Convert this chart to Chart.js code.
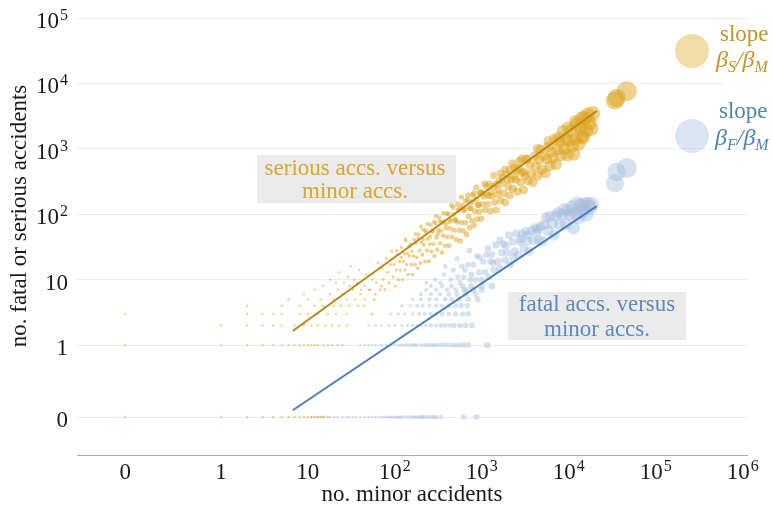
<!DOCTYPE html>
<html><head><meta charset="utf-8">
<script src="https://cdn.jsdelivr.net/npm/chart.js@4/dist/chart.umd.min.js"></script>
<style>html,body{margin:0;padding:0;background:#fff;}#c{display:block;}</style>
</head><body>
<canvas id="c" width="773" height="512" style="width:773px;height:512px"></canvas>
<script>
// ---------- DATA ----------
// [no. minor accidents, no. serious accidents]
const seriousLow = [
 [0,0],[1,0],[2,0],[3,0],[4,0],[5,0],[6,0],[7,0],[8,0],[9,0],[10,0],[11,0],[12,0],[13,0],[14,0],[15,0],[17,0],
 [0,1],[1,1],[2,1],[3,1],[4,1],[5,1],[6,1],[7,1],[8,1],[9,1],[10,1],[11,1],[12,1],[13,1],[15,1],[17,1],[19,1],[22,1],[25,1],
 [1,2],[2,2],[3,2],[4,2],[5,2],[7,2],[9,2],[11,2],[13,2],[16,2],[19,2],[23,2],[28,2],
 [0,3],[2,3],[3,3],[4,3],[5,3],[8,3],[10,3],[13,3],[17,3],[21,3],[28,3],[55,3],
 [2,4],[5,4],[8,4],[12,4],[15,4],[20,4],[24,4],[30,4],[38,4],
 [6,5],[10,5],[14,5],[20,5],[28,5],[35,5],[45,5],
 [9,6],[18,6],[25,6],[40,6],[60,6],
 [12,7],[22,7],[33,7],[50,7],
 [15,8],[30,8],[45,8],[70,8],
 [18,10],[21,9],[23,13],[26,9],[29,11],[31,16],[34,10],[37,9],[39,14]
];
const seriousCloud = [
 [41,7],[44,4],[47,12],[52,7],[55,10],[58,5],[61,9],[64,18],[68,7],[71,15],[74,10],[77,7],[80,21],[83,13],[86,9],[89,17],[92,27],[95,11],[98,17],
 [101,8],[104,14],[107,24],[110,10],[113,19],[116,14],[119,31],[122,10],[125,19],[128,25],[131,14],[134,39],[137,17],[140,25],[143,12],[147,23],[151,35],[155,17],[159,12],[163,23],
 [167,41],[171,17],[175,36],[179,22],[183,15],[187,49],[192,28],[197,18],[202,37],[207,24],[212,58],
 [217,34],[222,19],[228,53],[234,28],[240,42],[246,19],[252,35],[258,69],[265,27],[272,54],[279,35],[286,23],[293,72],[300,44],[308,29],[316,57],[324,89],[332,36],[341,56],[350,26],
 [359,47],[368,78],[378,33],[388,61],[398,45],[409,101],[420,33],[431,61],[443,82],[455,45],[467,127],[480,57],[493,81],[507,41],[521,76],[536,115],[551,57],[566,39],[582,75],[598,136],
 [615,56],[632,119],[650,74],[668,49],[687,166],[706,93],[726,62],[746,124],[767,80],[789,197],
 [811,68],[834,111],[858,169],[882,84],[907,138],[933,110],[960,210],[987,86],[1015,143],[1050,186],[1090,116],[1130,268],[1170,142],[1210,193],[1260,112],[1310,190],[1360,265],
 [1410,153],[1470,116],[1530,199],[1590,327],[1650,162],[1720,299],[1790,210],[1860,151],[1940,412],[2020,264],[2100,194],[2190,341],[2280,245],[2370,517],
 [2470,339],[2570,222],[2680,505],[2790,308],[2900,431],[3020,235],[3150,387],[3280,682],[3420,324],[3560,570],[3710,418],[3870,307],[4030,767],[4200,538],[4380,387],[4560,681],
 [4750,976],[4950,484],[5160,780],[5380,425],[5610,700],[5850,1075],[6100,550],[6360,900],[6630,727],[6910,1400],[7200,580],[7510,980],[7830,1280],[8160,800],[8510,1870],
 [8870,1000],[9250,1365],[9640,800],[10050,1350],[10480,1890],[10930,1100],[11400,830],[11880,1430],[12390,2360],[12920,1175],[13470,2170],[14040,1525],[14640,1510],
 [15260,3000],[15900,1920],[16580,3300],[17280,2500],[18010,2060],[18770,3450]
];
const seriousUpper = [
 [105,28],[118,22],[133,42],[146,32],[158,27],[173,50],[186,43],[199,65],[213,41],[226,57],[238,71],[256,46],[269,56],[283,77],[297,94],[313,50],[329,78],[345,75],[362,103],[382,70],
 [402,102],[425,76],[448,136],[472,99],[498,83],[525,144],[555,123],[585,183],[620,113],[655,159],[692,197],[730,124],[772,154],[815,210],[862,259],[910,139],[965,218],[1020,210],
 [1080,292],[1145,198],[1215,291],[1290,217],[1370,390],[1455,287],[1545,240],[1640,422],[1745,364],[1850,480],[1970,339],[2090,474],[2230,595],[2370,378],[2530,471],[2700,650],
 [2880,700],[3080,441],[3300,697],[4400,1000],[5900,1300],[7700,1500],[9800,2100],[12000,2600],[14000,2900]
];
// [no. minor accidents, no. fatal accidents]
const fatalLow = [
 [11,0],[12,0],[13,0],[14,0],[15,0],[16,0],[18,0],[20,0],[22,0],[25,0],[28,0],[30,0],[33,0],[36,0],[40,0],[45,0],[50,0],[55,0],[60,0],[65,0],[70,0],[75,0],[80,0],[85,0],
 [90,0],[95,0],[100,0],[105,0],[110,0],[115,0],[120,0],[130,0],[140,0],[150,0],[160,0],[170,0],[180,0],[190,0],[200,0],[210,0],[220,0],[240,0],[260,0],[280,0],[300,0],[340,0],[620,0],[870,0],
 [40,1],[45,1],[50,1],[55,1],[60,1],[70,1],[80,1],[90,1],[100,1],[110,1],[120,1],[130,1],[140,1],[150,1],[160,1],[170,1],[180,1],[200,1],[220,1],[240,1],[260,1],[280,1],[300,1],[330,1],[360,1],[400,1],[450,1],[500,1],[560,1],[620,1],[700,1],[1150,1],
 [50,2],[60,2],[70,2],[85,2],[100,2],[120,2],[140,2],[160,2],[180,2],[200,2],[230,2],[260,2],[300,2],[340,2],[380,2],[430,2],[480,2],[560,2],[650,2],[770,2],
 [90,3],[110,3],[130,3],[160,3],[190,3],[220,3],[260,3],[300,3],[350,3],[420,3],[500,3],[600,3],[700,3],
 [120,4],[150,4],[180,4],[210,4],[250,4],[300,4],[350,4],[420,4],[500,4],[580,4],[680,4],
 [160,5],[200,5],[250,5],[300,5],[380,5],[450,5],[550,5],[700,5],[900,5],
 [200,6],[260,6],[330,6],[420,6],[520,6],[650,6],[850,6],
 [230,7],[300,7],[400,7],[500,7],[620,7],[800,7],[1000,7],
 [260,8],[350,8],[450,8],[600,8],[750,8],[1000,8],[1300,8]
];
const fatalCloud = [
 [230,9],[290,10],[335,9],[370,12],[380,16],[440,10],[470,14],[520,21],[530,11],[560,9],[590,16],
 [620,11],[640,14],[660,7],[690,17],[720,28],[735,10],[760,12],[800,17],[850,10],[880,23],[930,13],[950,22],[990,10],[1040,19],[1090,13],[1130,24],[1180,30],[1200,11],[1260,19],[1310,24],
 [1350,18],[1380,14],[1450,34],[1530,19],[1600,15],[1620,40],[1680,26],[1770,35],[1850,20],[1900,33],[1950,26],[2050,48],[2120,17],[2250,38],[2300,22],[2380,27],[2490,51],[2620,24],
 [2760,38],[2800,42],[2900,50],[3050,30],[3190,55],[3350,39],[3400,48],[3520,27],[3700,56],[3900,40],[4080,62],[4300,53],[4400,60],[4520,40],[4750,65],[4980,39],[5250,69],[5500,90],
 [5800,56],[6100,93],[6450,72],[6800,48],[7150,95],[7550,105],[7950,69],[8400,100],[8850,120],[9300,71],[9800,115],[10300,99],[10900,130],[11300,62],[11800,102],[12400,147],[13000,90],
 [13600,138],[14300,110],[15000,141],[15800,99],[16500,143],[17400,127],[18300,142]
];
// the largest cities: [minor, serious, fatal]
const bigMinor   = [34000, 35500, 46500];
const bigSerious = [5500, 6000, 7600];
const bigFatal   = [300, 445, 510];
// fitted power laws (end points)
const fitMinor   = [6.7, 21000];
const fitSerious = [1.64, 3785];
const fitFatal   = [0.101, 133];
// ticks
const xTickValues = [0, 1, 10, 100, 1000, 10000, 100000, 1000000];
const xTickLabels = ['0', '1', '10', '10^2', '10^3', '10^4', '10^5', '10^6'];
const yTickValues = [0, 1, 10, 100, 1000, 10000, 100000];
const yTickLabels = ['0', '1', '10', '10^2', '10^3', '10^4', '10^5'];

// ---------- SCALE TRANSFORM (log, with 0 placed just below 1) ----------
const ZERO = -1.1;
const pos = v => v > 0 ? Math.log10(v) : ZERO;
const toPts = arr => arr.map(([a, b]) => ({x: pos(a), y: pos(b), m: a}));

const seriousPts = toPts(seriousLow.concat(seriousCloud, seriousUpper, bigMinor.map((m, i) => [m, bigSerious[i]])));
const fatalPts = toPts(fatalLow.concat(fatalCloud, bigMinor.map((m, i) => [m, bigFatal[i]])));
const seriousLine = fitMinor.map((m, i) => ({x: pos(m), y: pos(fitSerious[i])}));
const fatalLine = fitMinor.map((m, i) => ({x: pos(m), y: pos(fitFatal[i])}));

const GOLD = 'rgba(222,163,30,0.5)';
const BLUE = 'rgba(160,186,222,0.42)';
const radius = ctx => {
  const r = ctx.raw ? 0.4 * Math.pow(Math.max(ctx.raw.m, 1), 0.3) : 1.2;
  return Math.max(1.2, r);
};
const FONT = '"Liberation Serif", "Times New Roman", serif';

function drawLabel(ctx, label, x, y, align, size) {
  const parts = label.split('^');
  const base = parts[0], sup = parts[1];
  const supSize = Math.round(size * 0.68);
  ctx.font = size + 'px ' + FONT;
  const wb = ctx.measureText(base).width;
  let ws = 0;
  if (sup) { ctx.font = supSize + 'px ' + FONT; ws = ctx.measureText(sup).width + 1; }
  const total = wb + ws;
  const x0 = align === 'center' ? x - total / 2 : align === 'right' ? x - total : x;
  ctx.textAlign = 'left'; ctx.textBaseline = 'alphabetic';
  ctx.font = size + 'px ' + FONT; ctx.fillText(base, x0, y);
  if (sup) { ctx.font = supSize + 'px ' + FONT; ctx.fillText(sup, x0 + wb + 1, y - 8); }
}
function drawRatio(ctx, x, y, sub1, sub2, color) {
  const segs = [['β', 24, 0], [sub1, 16, 5], ['/', 24, 0], ['β', 24, 0], [sub2, 16, 5]];
  ctx.fillStyle = color; ctx.textAlign = 'left'; ctx.textBaseline = 'alphabetic';
  let cx = x;
  segs.forEach(([t, s, dy]) => {
    ctx.font = 'italic ' + s + 'px ' + FONT;
    ctx.fillText(t, cx, y + dy);
    cx += ctx.measureText(t).width;
  });
}

const annotations = {
  id: 'annot',
  afterDatasetsDraw(chart) {
    const ctx = chart.ctx;
    ctx.save();
    ctx.fillStyle = '#ebebeb';
    ctx.fillRect(257, 155, 199, 48);
    ctx.fillRect(508, 292, 178, 48);
    ctx.font = '23px ' + FONT; ctx.textAlign = 'center'; ctx.textBaseline = 'alphabetic';
    ctx.fillStyle = '#dba629';
    ctx.fillText('serious accs. versus', 355, 175);
    ctx.fillText('minor accs.', 355, 198);
    ctx.fillStyle = '#5b8bbd';
    ctx.fillText('fatal accs. versus', 597, 311);
    ctx.fillText('minor accs.', 597, 336);
    ctx.restore();
  },
  afterDraw(chart) {
    const ctx = chart.ctx, xs = chart.scales.x, ys = chart.scales.y;
    ctx.save();
    ctx.fillStyle = '#1a1a1a';
    xTickValues.forEach((v, i) => drawLabel(ctx, xTickLabels[i], xs.getPixelForValue(pos(v)), 479, 'center', 23));
    yTickValues.forEach((v, i) => drawLabel(ctx, yTickLabels[i], 68, ys.getPixelForValue(pos(v)) + 10, 'right', 23));
    ctx.font = '23px ' + FONT; ctx.textAlign = 'center'; ctx.textBaseline = 'alphabetic';
    ctx.fillText('no. minor accidents', (chart.chartArea.left + chart.chartArea.right) / 2, 501);
    ctx.save();
    ctx.translate(26, 216); ctx.rotate(-Math.PI / 2);
    ctx.fillText('no. fatal or serious accidents', 0, 0);
    ctx.restore();
    // legend
    ctx.fillStyle = '#fff';
    ctx.fillRect(722, 22, 51, 68);
    ctx.fillRect(713, 98, 60, 58);
    ctx.beginPath(); ctx.arc(692, 51, 17, 0, Math.PI * 2); ctx.fillStyle = 'rgba(222,170,45,0.42)'; ctx.fill();
    ctx.beginPath(); ctx.arc(692, 136, 17, 0, Math.PI * 2); ctx.fillStyle = 'rgba(176,198,226,0.45)'; ctx.fill();
    ctx.textAlign = 'left';
    ctx.font = '23px ' + FONT;
    ctx.fillStyle = '#c39326'; ctx.fillText('slope', 720, 41);
    drawRatio(ctx, 716, 67, 'S', 'M', '#c39326');
    ctx.font = '23px ' + FONT;
    ctx.fillStyle = '#4f82b6'; ctx.fillText('slope', 719, 118);
    drawRatio(ctx, 715, 145, 'F', 'M', '#4f82b6');
    ctx.restore();
  }
};

new Chart(document.getElementById('c'), {
  type: 'scatter',
  data: {
    datasets: [
      {label: 'serious fit', data: seriousLine, showLine: true, borderColor: '#b8880f', borderWidth: 2, pointRadius: 0},
      {label: 'fatal fit', data: fatalLine, showLine: true, borderColor: '#4a80b8', borderWidth: 2, pointRadius: 0},
      {label: 'serious', data: seriousPts, backgroundColor: GOLD, borderWidth: 0, pointRadius: radius},
      {label: 'fatal', data: fatalPts, backgroundColor: BLUE, borderWidth: 0, pointRadius: radius}
    ]
  },
  options: {
    responsive: false, animation: false, devicePixelRatio: 1,
    layout: {padding: {left: 0, right: 26, top: 18, bottom: 0}},
    plugins: {legend: {display: false}, tooltip: {enabled: false}},
    scales: {
      x: {
        type: 'linear', min: -1.655, max: 6.05,
        grid: {display: false},
        border: {display: true, color: '#aaaaaa', width: 1},
        ticks: {display: false},
        afterFit: s => { s.height = 57; }
      },
      y: {
        type: 'linear', min: -1.68, max: 5,
        grid: {color: '#ececec', lineWidth: 1, drawTicks: false},
        border: {display: false},
        ticks: {display: false},
        afterBuildTicks: s => { s.ticks = yTickValues.map(v => ({value: pos(v)})); },
        afterFit: s => { s.width = 77; }
      }
    }
  },
  plugins: [annotations]
});
</script></body></html>
